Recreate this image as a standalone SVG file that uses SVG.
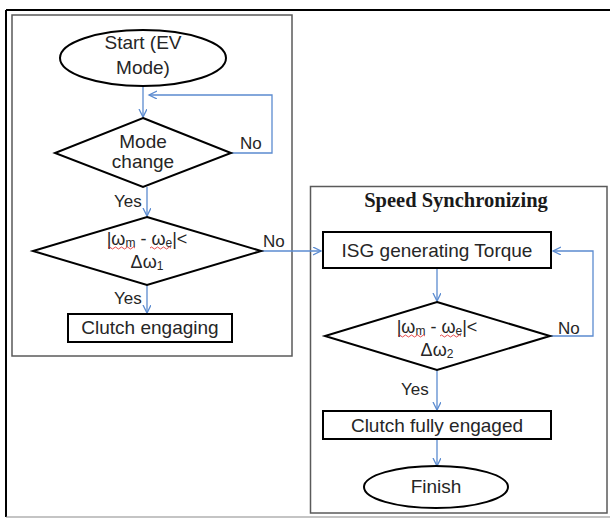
<svg xmlns="http://www.w3.org/2000/svg" width="610" height="518" viewBox="0 0 610 518">
<style>
.txt{font-family:"Liberation Sans",Arial,sans-serif;font-size:19px;fill:#262626;text-anchor:middle}
.lbl{font-family:"Liberation Sans",Arial,sans-serif;font-size:17px;fill:#262626}
.sub{font-size:12px}
.title{font-family:"Liberation Serif","Times New Roman",serif;font-size:20.5px;font-weight:bold;fill:#1a1a1a;text-anchor:middle}
.node{fill:#fff;stroke:#000;stroke-width:2}
.sect{fill:none;stroke:#5a5a5a;stroke-width:1.5}
.conn{fill:none;stroke:#5b8bd0;stroke-width:1.3}
.sq{fill:none;stroke:#e02020;stroke-width:0.8}
</style>
<defs>
<marker id="arr" markerWidth="10" markerHeight="10" refX="8" refY="4" orient="auto" markerUnits="userSpaceOnUse">
<path d="M0,0 L8,4 L0,8" fill="none" stroke="#5b8bd0" stroke-width="1.3"/>
</marker>
</defs>
<rect width="610" height="518" fill="#fff"/>
<g id="frame">
<line x1="6" y1="10" x2="610" y2="10" stroke="#000" stroke-width="2"/>
<line x1="6" y1="10" x2="6" y2="517" stroke="#000" stroke-width="2"/>
<line x1="6" y1="517" x2="610" y2="517" stroke="#8a8a8a" stroke-width="1.2"/>
</g>
<g id="section-ev">
<rect class="sect" x="12" y="15" width="280" height="341"/>
</g>
<g id="section-sync">
<rect class="sect" x="310.5" y="186.5" width="296.5" height="326.5"/>
<text class="title" x="456" y="207">Speed Synchronizing</text>
</g>
<g id="connectors">
<line class="conn" x1="143" y1="87" x2="143" y2="117" marker-end="url(#arr)"/>
<polyline class="conn" points="231,153 272,153 272,95 149,95" marker-end="url(#arr)"/>
<line class="conn" x1="147" y1="187" x2="147" y2="216" marker-end="url(#arr)"/>
<line class="conn" x1="147" y1="285" x2="147" y2="313" marker-end="url(#arr)"/>
<line class="conn" x1="261" y1="251" x2="321" y2="251" marker-end="url(#arr)"/>
<line class="conn" x1="437" y1="268" x2="437" y2="301" marker-end="url(#arr)"/>
<polyline class="conn" points="550,336 593,336 593,251 553,251" marker-end="url(#arr)"/>
<line class="conn" x1="437" y1="370" x2="437" y2="410" marker-end="url(#arr)"/>
<line class="conn" x1="437" y1="439" x2="437" y2="466" marker-end="url(#arr)"/>
<text class="lbl" x="240" y="149">No</text>
<text class="lbl" x="114" y="207">Yes</text>
<text class="lbl" x="263" y="247">No</text>
<text class="lbl" x="114" y="304">Yes</text>
<text class="lbl" x="558" y="334">No</text>
<text class="lbl" x="401" y="395">Yes</text>
</g>
<g id="start">
<ellipse class="node" cx="143" cy="58" rx="83" ry="28"/>
<text class="txt" x="143" y="49">Start (EV</text>
<text class="txt" x="143" y="74">Mode)</text>
</g>
<g id="mode-change">
<polygon class="node" points="143,118 231,153 143,187 55,153"/>
<text class="txt" x="143" y="148">Mode</text>
<text class="txt" x="143" y="168">change</text>
</g>
<g id="speed-check-1">
<polygon class="node" points="147,217 261,251 147,285 33,251"/>
<text class="txt" x="147" y="245" style="font-size:18px">|ω<tspan class="sub" dy="2">m</tspan><tspan dy="-2"> - ω</tspan><tspan class="sub" dy="2">e</tspan><tspan dy="-2">|&lt;</tspan></text>
<text class="txt" x="147" y="268" style="font-size:18px">Δω<tspan class="sub" dy="2">1</tspan></text>
<path class="sq" d="M108,248 q1.5,-2 3,0 t3,0 t3,0 t3,0 t3,0 t3,0 t3,0 t3,0 t3,0"/>
<path class="sq" d="M150,248 q1.5,-2 3,0 t3,0 t3,0 t3,0 t3,0 t3,0 t3,0"/>
</g>
<g id="clutch-engaging">
<rect class="node" x="68" y="314" width="164" height="28"/>
<text class="txt" x="150" y="334">Clutch engaging</text>
</g>
<g id="isg-torque">
<rect class="node" x="323" y="232" width="228" height="36"/>
<text class="txt" x="437" y="257">ISG generating Torque</text>
</g>
<g id="speed-check-2">
<polygon class="node" points="437,302 550,336 437,370 325,336"/>
<text class="txt" x="437" y="333" style="font-size:18px">|ω<tspan class="sub" dy="2">m</tspan><tspan dy="-2"> - ω</tspan><tspan class="sub" dy="2">e</tspan><tspan dy="-2">|&lt;</tspan></text>
<text class="txt" x="437" y="356" style="font-size:18px">Δω<tspan class="sub" dy="2">2</tspan></text>
<path class="sq" d="M398,336 q1.5,-2 3,0 t3,0 t3,0 t3,0 t3,0 t3,0 t3,0 t3,0 t3,0"/>
<path class="sq" d="M440,336 q1.5,-2 3,0 t3,0 t3,0 t3,0 t3,0 t3,0 t3,0"/>
</g>
<g id="clutch-fully-engaged">
<rect class="node" x="323" y="411" width="228" height="28"/>
<text class="txt" x="437" y="432">Clutch fully engaged</text>
</g>
<g id="finish">
<ellipse class="node" cx="436" cy="487" rx="72" ry="21"/>
<text class="txt" x="436" y="493">Finish</text>
</g>
</svg>
